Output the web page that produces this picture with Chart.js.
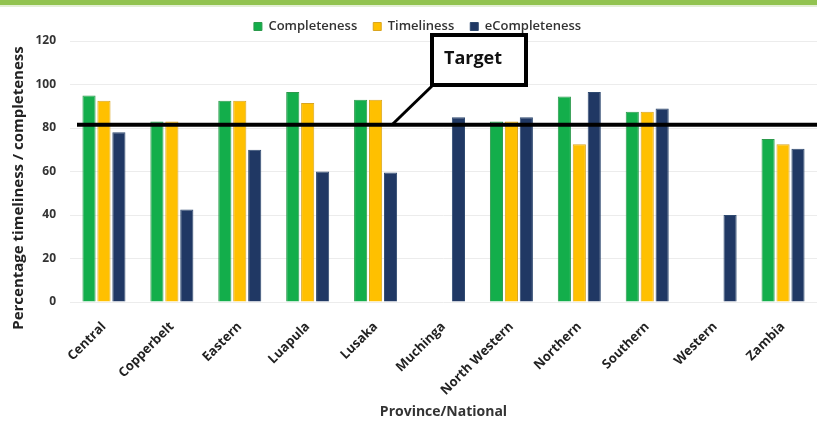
<!DOCTYPE html>
<html>
<head>
<meta charset="utf-8">
<script src="https://cdn.jsdelivr.net/npm/chart.js@4.4.0/dist/chart.umd.min.js"></script>
<style>
html,body{margin:0;padding:0;background:#fff;}
#wrap{width:817px;height:421px;position:relative;}
</style>
</head>
<body>
<div id="wrap"><canvas id="c" width="817" height="421"></canvas></div>
<script>
const categories = ["Central","Copperbelt","Eastern","Luapula","Lusaka","Muchinga","North Western","Northern","Southern","Western","Zambia"];
const completeness = [95, 83, 92.5, 96.5, 93, null, 83, 94.5, 87.5, null, 75];
const timeliness   = [92.5, 83, 92.5, 91.5, 93, null, 83, 72.5, 87.5, null, 72.5];
const eCompleteness = [78, 42.5, 70, 60, 59.5, 85, 85, 96.5, 89, 40, 70.5];
const yTicks = [0, 20, 40, 60, 80, 100, 120];
const TARGET = 81.5;
const TARGET_LABEL = "Target";
const Y_TITLE = "Percentage timeliness / completeness";

const FONT = "'Open Sans', 'DejaVu Sans', sans-serif";

const annotationPlugin = {
  id: 'targetAnno',
  afterLayout(chart) {
    const lg = chart.legend;
    if (lg) { lg.left += 9; lg.right += 9; lg.top += 2; lg.bottom += 2; }
  },
  beforeDraw(chart) {
    const ctx = chart.ctx;
    ctx.save();
    ctx.fillStyle = '#ffffff';
    ctx.fillRect(0, 0, chart.width, chart.height);
    ctx.fillStyle = '#92C350';
    ctx.fillRect(0, 0, chart.width, 5);
    ctx.fillStyle = '#E4EFD6';
    ctx.fillRect(0, 5, chart.width, 2);
    // y-axis title
    ctx.translate(19, 188);
    ctx.rotate(-Math.PI / 2);
    ctx.fillStyle = '#222';
    ctx.font = "bold 15px " + FONT;
    ctx.textAlign = 'center';
    ctx.textBaseline = 'middle';
    ctx.fillText(Y_TITLE, 0, 0);
    ctx.restore();
  },
  afterDatasetsDraw(chart) {
    const ctx = chart.ctx;
    const ys = chart.scales.y;
    const ca = chart.chartArea;
    const y = ys.getPixelForValue(TARGET);
    ctx.save();
    ctx.strokeStyle = '#000';
    ctx.lineWidth = 4;
    ctx.beginPath();
    ctx.moveTo(ca.left + 7, y);
    ctx.lineTo(chart.width, y);
    ctx.stroke();
    // connector
    ctx.lineWidth = 3;
    ctx.beginPath();
    ctx.moveTo(392, y);
    ctx.lineTo(432, 86);
    ctx.stroke();
    // box
    ctx.fillStyle = '#fff';
    ctx.fillRect(432, 35, 94, 50);
    ctx.lineWidth = 4;
    ctx.strokeRect(432, 35, 94, 50);
    ctx.fillStyle = '#111';
    ctx.font = "bold 18px " + FONT;
    ctx.textAlign = 'center';
    ctx.textBaseline = 'middle';
    ctx.fillText(TARGET_LABEL, 473, 59);
    ctx.restore();
  }
};

new Chart(document.getElementById('c'), {
  type: 'bar',
  data: {
    labels: categories,
    datasets: [
      {label: 'Completeness', data: completeness, backgroundColor: '#13AE4B', borderColor: '#2C9A4C', borderWidth: 1},
      {label: 'Timeliness', data: timeliness, backgroundColor: '#FFC000', borderColor: '#D9A520', borderWidth: 1},
      {label: 'eCompleteness', data: eCompleteness, backgroundColor: '#203864', borderColor: '#2F4A70', borderWidth: 1}
    ]
  },
  options: {
    responsive: false,
    animation: false,
    devicePixelRatio: 1,
    layout: {padding: {top: 2, left: 0, right: 0, bottom: 0}},
    datasets: {bar: {categoryPercentage: 0.66, barPercentage: 0.88}},
    plugins: {
      legend: {
        position: 'top',
        labels: {
          boxWidth: 8, boxHeight: 8, padding: 16, color: '#333',
          font: {family: FONT, size: 13, weight: '600', lineHeight: 1}
        }
      },
      tooltip: {enabled: false}
    },
    scales: {
      x: {
        grid: {display: false},
        border: {display: false},
        ticks: {
          maxRotation: 45, minRotation: 45, color: '#222', padding: 9,
          font: {family: FONT, size: 13, weight: 'bold'}
        },
        title: {display: true, text: 'Province/National', color: '#333', padding: {top: 0, bottom: 1},
          font: {family: FONT, size: 14, weight: 'bold'}},
        afterFit: s => { s.height = 119; }
      },
      y: {
        min: 0, max: 120,
        afterBuildTicks: s => { s.ticks = yTicks.map(v => ({value: v})); },
        grid: {color: '#ECECEC', drawTicks: false},
        border: {display: false},
        ticks: {color: '#333', padding: 14, font: {family: FONT, size: 12, weight: 'bold'}},
        afterFit: s => { s.width = 70; }
      }
    }
  },
  plugins: [annotationPlugin]
});
</script>
</body>
</html>
